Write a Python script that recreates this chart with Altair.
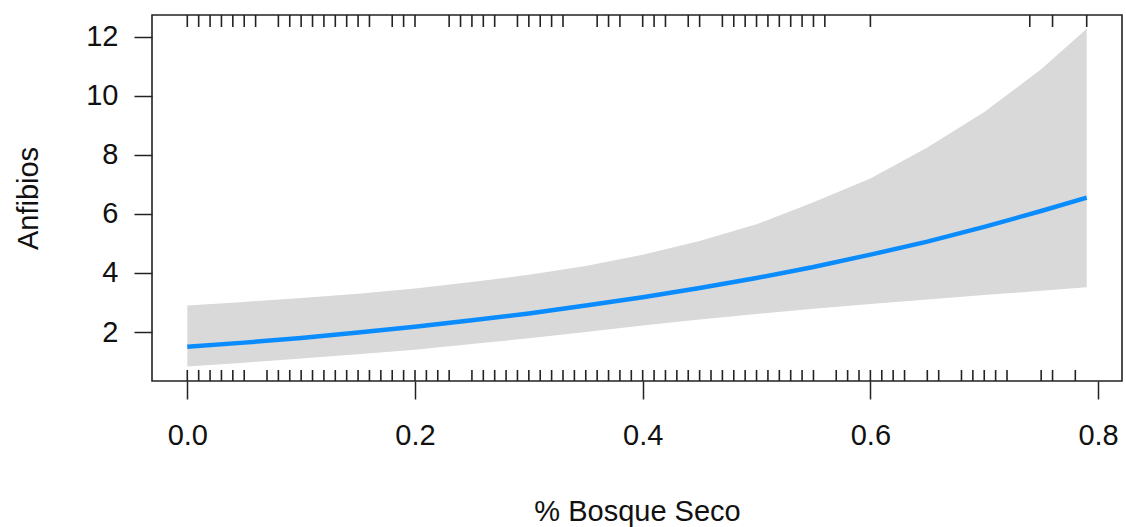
import altair as alt
import pandas as pd

# Fitted curve and confidence band
x_grid = [0.00, 0.05, 0.10, 0.15, 0.20, 0.25, 0.30, 0.35, 0.40, 0.45,
          0.50, 0.55, 0.60, 0.65, 0.70, 0.75, 0.79]
fit = [1.50, 1.64, 1.80, 1.98, 2.18, 2.40, 2.63, 2.90, 3.18, 3.49,
       3.83, 4.20, 4.62, 5.06, 5.56, 6.10, 6.55]
lower = [0.83, 0.96, 1.10, 1.25, 1.40, 1.59, 1.79, 2.00, 2.22, 2.42,
         2.61, 2.79, 2.95, 3.10, 3.25, 3.40, 3.52]
upper = [2.90, 3.02, 3.15, 3.30, 3.47, 3.69, 3.94, 4.24, 4.62, 5.08,
         5.65, 6.40, 7.20, 8.25, 9.45, 10.90, 12.27]

# Rug values (bottom and top)
rug_bottom = [0.00, 0.01, 0.02, 0.03, 0.04, 0.05,
              0.07, 0.08, 0.09, 0.10, 0.11, 0.12, 0.13, 0.14, 0.15, 0.16,
              0.17, 0.18, 0.19, 0.20, 0.21, 0.22, 0.23,
              0.25, 0.26, 0.27, 0.28, 0.29, 0.30, 0.31, 0.32, 0.33, 0.34,
              0.35, 0.36, 0.37, 0.38, 0.39, 0.40, 0.41, 0.42, 0.43, 0.44,
              0.45, 0.46, 0.47, 0.48, 0.49, 0.50, 0.51, 0.52, 0.53, 0.54,
              0.55, 0.57, 0.58, 0.59, 0.60, 0.61, 0.62, 0.63, 0.65, 0.66,
              0.68, 0.69, 0.70, 0.71, 0.72, 0.75, 0.76, 0.78]
rug_top = [0.00, 0.01, 0.02, 0.03, 0.04, 0.05, 0.06,
           0.08, 0.09, 0.10, 0.11, 0.12, 0.13, 0.14, 0.15, 0.16,
           0.18, 0.19, 0.20, 0.23, 0.24, 0.25, 0.26, 0.27,
           0.29, 0.30, 0.31, 0.32, 0.33, 0.36, 0.37, 0.38,
           0.40, 0.41, 0.42, 0.44, 0.45, 0.47, 0.48, 0.49, 0.50, 0.51,
           0.52, 0.53, 0.54, 0.55, 0.56, 0.60, 0.74, 0.76, 0.79]

x_ticks = [0.0, 0.2, 0.4, 0.6, 0.8]
y_ticks = [2, 4, 6, 8, 10, 12]

W, H = 970, 366
FONT = "Liberation Sans"

curve = pd.DataFrame({"x": x_grid, "fit": fit, "lower": lower, "upper": upper})
rb = pd.DataFrame({"x": rug_bottom})
rt = pd.DataFrame({"x": rug_top})

xs = alt.Scale(domain=[-0.031, 0.821], nice=False, zero=False)
ys = alt.Scale(domain=[0.34, 12.74], nice=False, zero=False)

xaxis = alt.Axis(values=x_ticks, format=".1f", title="% Bosque Seco", grid=False,
                 domain=False, tickSize=18, tickWidth=1.5, tickColor="#222",
                 labelFontSize=29, labelFont=FONT, labelColor="#111", labelPadding=22,
                 titleFontSize=29, titleFont=FONT, titleFontWeight="normal",
                 titleColor="#111", titlePadding=47, labelFlush=False)
yaxis = alt.Axis(values=y_ticks, format="d", title="Anfibios", grid=False,
                 domain=False, tickSize=18, tickWidth=1.5, tickColor="#222",
                 labelFontSize=29, labelFont=FONT, labelColor="#111", labelPadding=16,
                 titleFontSize=29, titleFont=FONT, titleFontWeight="normal",
                 titleColor="#111", titlePadding=42)

band = alt.Chart(curve).mark_area(color="#d9d9d9", opacity=1).encode(
    x=alt.X("x:Q", scale=xs, axis=xaxis),
    y=alt.Y("lower:Q", scale=ys, axis=yaxis),
    y2="upper:Q",
)
line = alt.Chart(curve).mark_line(color="#0a8cff", strokeWidth=4.5).encode(
    x=alt.X("x:Q", scale=xs),
    y=alt.Y("fit:Q", scale=ys),
)
rug_b = alt.Chart(rb).mark_rule(color="#222", strokeWidth=1.6).encode(
    x=alt.X("x:Q", scale=xs),
    y=alt.value(H - 11),
    y2=alt.value(H),
)
rug_t = alt.Chart(rt).mark_rule(color="#222", strokeWidth=1.6).encode(
    x=alt.X("x:Q", scale=xs),
    y=alt.value(0),
    y2=alt.value(12),
)

chart = alt.layer(band, line, rug_b, rug_t).properties(
    width=W, height=H,
    background="white",
    autosize=alt.AutoSizeParams(type="none"),
    padding={"left": 152, "top": 15, "right": 4, "bottom": 146},
).configure_view(stroke="#222", strokeWidth=1.6)

chart.save("out.html", embed_options={"renderer": "svg", "actions": False})
